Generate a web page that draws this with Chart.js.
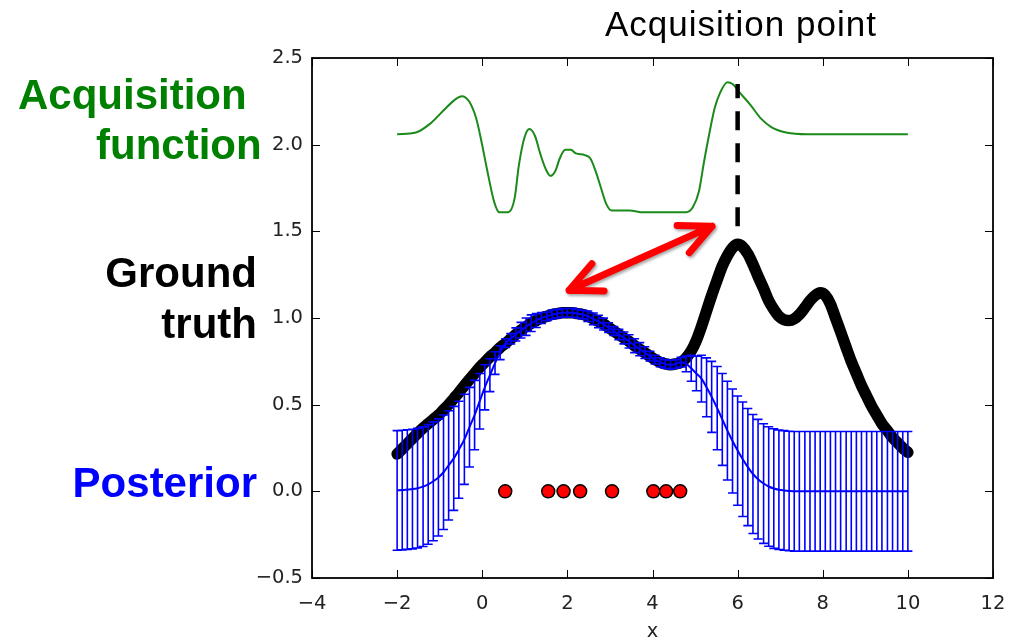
<!DOCTYPE html>
<html>
<head>
<meta charset="utf-8">
<title>Bayesian optimisation - acquisition point</title>
<script src="https://cdn.jsdelivr.net/npm/chart.js@4.4.1/dist/chart.umd.min.js"></script>
<style>
  html, body { margin: 0; padding: 0; background: #fff; }
  #wrap { position: relative; width: 1021px; height: 642px; }
  #chart { position: absolute; left: 0; top: 0; }
  .lbl { position: absolute; white-space: nowrap; line-height: 1; font-family: "Liberation Sans", Arial, sans-serif; }
  .side { font-size: 42px; font-weight: bold; }
</style>
</head>
<body>
<div id="wrap">
  <canvas id="chart" width="1021" height="642"></canvas>
  <div class="lbl" style="left:605px; top:6px; font-size:35px; letter-spacing:1px; color:#000;">Acquisition point</div>
  <div class="lbl side" style="left:18px; top:74px; color:#008000;">Acquisition</div>
  <div class="lbl side" style="left:96px; top:124px; color:#008000;">function</div>
  <div class="lbl side" style="right:764px; top:252px; color:#000;">Ground</div>
  <div class="lbl side" style="right:764px; top:303px; color:#000;">truth</div>
  <div class="lbl side" style="right:764px; top:462px; color:#0000ff;">Posterior</div>
</div>
<script>
// Grille des x (100 points de -2 a 10)
const xs = [
  -2.00, -1.88, -1.76, -1.64, -1.52, -1.39, -1.27, -1.15, -1.03, -0.91,
  -0.79, -0.67, -0.55, -0.42, -0.30, -0.18, -0.06, 0.06, 0.18, 0.30,
  0.42, 0.55, 0.67, 0.79, 0.91, 1.03, 1.15, 1.27, 1.39, 1.52,
  1.64, 1.76, 1.88, 2.00, 2.12, 2.24, 2.36, 2.48, 2.61, 2.73,
  2.85, 2.97, 3.09, 3.21, 3.33, 3.45, 3.58, 3.70, 3.82, 3.94,
  4.06, 4.18, 4.30, 4.42, 4.55, 4.67, 4.79, 4.91, 5.03, 5.15,
  5.27, 5.39, 5.52, 5.64, 5.76, 5.88, 6.00, 6.12, 6.24, 6.36,
  6.48, 6.61, 6.73, 6.85, 6.97, 7.09, 7.21, 7.33, 7.45, 7.58,
  7.70, 7.82, 7.94, 8.06, 8.18, 8.30, 8.42, 8.55, 8.67, 8.79,
  8.91, 9.03, 9.15, 9.27, 9.39, 9.52, 9.64, 9.76, 9.88, 10.00
];

// Ground truth (courbe noire)
const truth = [
  0.215, 0.245, 0.275, 0.305, 0.335, 0.365, 0.39, 0.415, 0.44, 0.47,
  0.50, 0.535, 0.57, 0.61, 0.645, 0.68, 0.715, 0.745, 0.775, 0.80,
  0.83, 0.855, 0.88, 0.905, 0.93, 0.95, 0.97, 0.985, 1.00, 1.01,
  1.02, 1.025, 1.03, 1.03, 1.03, 1.025, 1.02, 1.01, 0.995, 0.98,
  0.965, 0.945, 0.925, 0.905, 0.885, 0.865, 0.84, 0.82, 0.80, 0.78,
  0.76, 0.745, 0.735, 0.73, 0.735, 0.745, 0.77, 0.81, 0.87, 0.95,
  1.04, 1.13, 1.22, 1.30, 1.36, 1.405, 1.425, 1.41, 1.37, 1.31,
  1.24, 1.17, 1.10, 1.05, 1.01, 0.99, 0.985, 0.995, 1.02, 1.06,
  1.10, 1.13, 1.145, 1.13, 1.08, 1.00, 0.92, 0.83, 0.75, 0.68,
  0.61, 0.55, 0.49, 0.44, 0.39, 0.35, 0.31, 0.28, 0.25, 0.225
];

// Posterior : moyenne
const postMean = [
  0.005, 0.007, 0.01, 0.013, 0.018, 0.027, 0.04, 0.058, 0.08, 0.11,
  0.15, 0.19, 0.24, 0.30, 0.37, 0.44, 0.52, 0.60, 0.67, 0.74,
  0.80, 0.855, 0.88, 0.905, 0.93, 0.95, 0.97, 0.985, 1.00, 1.01,
  1.02, 1.025, 1.03, 1.03, 1.03, 1.025, 1.02, 1.01, 0.995, 0.98,
  0.965, 0.945, 0.925, 0.905, 0.885, 0.865, 0.84, 0.82, 0.80, 0.78,
  0.76, 0.745, 0.735, 0.73, 0.735, 0.745, 0.735, 0.71, 0.68, 0.65,
  0.60, 0.545, 0.48, 0.415, 0.35, 0.29, 0.235, 0.185, 0.14, 0.10,
  0.07, 0.045, 0.028, 0.016, 0.009, 0.005, 0.002, 0, 0, 0,
  0, 0, 0, 0, 0, 0, 0, 0, 0, 0,
  0, 0, 0, 0, 0, 0, 0, 0, 0, 0
];

// Posterior : ecart-type (barres d'erreur)
const postStd = [
  0.345, 0.345, 0.345, 0.345, 0.345, 0.345, 0.345, 0.343, 0.338, 0.33,
  0.315, 0.30, 0.28, 0.26, 0.23, 0.20, 0.16, 0.13, 0.095, 0.065,
  0.04, 0.025, 0.03, 0.038, 0.045, 0.05, 0.048, 0.04, 0.032, 0.025,
  0.026, 0.025, 0.024, 0.025, 0.026, 0.025, 0.025, 0.03, 0.034, 0.036,
  0.034, 0.028, 0.025, 0.03, 0.034, 0.038, 0.04, 0.038, 0.034, 0.028,
  0.025, 0.026, 0.025, 0.026, 0.025, 0.028, 0.045, 0.075, 0.10, 0.135,
  0.17, 0.205, 0.24, 0.265, 0.285, 0.30, 0.315, 0.33, 0.338, 0.343,
  0.345, 0.345, 0.345, 0.345, 0.345, 0.345, 0.345, 0.345, 0.345, 0.345,
  0.345, 0.345, 0.345, 0.345, 0.345, 0.345, 0.345, 0.345, 0.345, 0.345,
  0.345, 0.345, 0.345, 0.345, 0.345, 0.345, 0.345, 0.345, 0.345, 0.345
];

// Observations (points rouges, y = 0)
const obsX = [0.54, 1.55, 1.91, 2.30, 3.05, 4.02, 4.32, 4.65];
const obsY = [0, 0, 0, 0, 0, 0, 0, 0];

// Fonction d'acquisition (courbe verte)
const acqX = [
  -2.00, -1.56, -1.23, -0.90, -0.64, -0.48, -0.31, -0.14, -0.02, 0.11,
  0.28, 0.40, 0.61, 0.76, 0.86, 0.99, 1.11, 1.24, 1.36, 1.49,
  1.60, 1.72, 1.82, 1.95, 2.08, 2.20, 2.41, 2.54, 2.66, 2.79,
  2.91, 3.04, 3.20, 3.46, 3.79, 4.79, 4.95, 5.09, 5.21, 5.34,
  5.46, 5.59, 5.76, 5.88, 6.05, 6.30, 6.55, 6.80, 7.14, 7.64, 10.00
];
const acqY = [
  2.06, 2.07, 2.12, 2.20, 2.26, 2.28, 2.25, 2.15, 2.02, 1.86,
  1.67, 1.61, 1.61, 1.69, 1.88, 2.04, 2.09, 2.05, 1.95, 1.86,
  1.82, 1.85, 1.92, 1.97, 1.97, 1.95, 1.94, 1.92, 1.85, 1.75,
  1.66, 1.62, 1.62, 1.62, 1.61, 1.61, 1.64, 1.73, 1.90, 2.07,
  2.21, 2.30, 2.36, 2.35, 2.30, 2.23, 2.15, 2.10, 2.07, 2.06, 2.06
];

// Point d'acquisition (trait pointille vertical)
const acqPointX = [6, 6];
const acqPointY = [1.53, 2.35];

// Ticks
const xTicks = [-4, -2, 0, 2, 4, 6, 8, 10, 12];
const yTicks = [-0.5, 0.0, 0.5, 1.0, 1.5, 2.0, 2.5];

const toPts = (a, b) => a.map((v, i) => ({ x: v, y: b[i] }));
const minus = s => s.replace('-', '\u2212');
const MEAN_IDX = 2;

// Barres d'erreur du posterior
const errorBars = {
  id: 'errorBars',
  afterDatasetDraw(chart, args) {
    if (args.index !== MEAN_IDX) return;
    const { ctx, scales: { x, y } } = chart;
    ctx.save();
    ctx.strokeStyle = '#0000ff';
    ctx.lineWidth = 1.6;
    ctx.beginPath();
    xs.forEach((xv, i) => {
      const px = x.getPixelForValue(xv);
      const top = y.getPixelForValue(postMean[i] + postStd[i]);
      const bot = y.getPixelForValue(postMean[i] - postStd[i]);
      ctx.moveTo(px, top); ctx.lineTo(px, bot);
      ctx.moveTo(px - 4.5, top); ctx.lineTo(px + 4.5, top);
      ctx.moveTo(px - 4.5, bot); ctx.lineTo(px + 4.5, bot);
    });
    ctx.stroke();
    ctx.restore();
  }
};

// Fleche rouge double
const redArrow = {
  id: 'redArrow',
  afterDatasetsDraw(chart) {
    const { ctx, scales: { x, y } } = chart;
    const p0 = [x.getPixelForValue(2.04), y.getPixelForValue(1.16)];
    const p1 = [x.getPixelForValue(5.40), y.getPixelForValue(1.53)];
    const ang = Math.atan2(p1[1] - p0[1], p1[0] - p0[0]);
    const len = 35, spread = 0.44;
    const head = (tip, a) => {
      ctx.moveTo(tip[0] + len * Math.cos(a + spread), tip[1] + len * Math.sin(a + spread));
      ctx.lineTo(tip[0], tip[1]);
      ctx.lineTo(tip[0] + len * Math.cos(a - spread), tip[1] + len * Math.sin(a - spread));
    };
    ctx.save();
    ctx.strokeStyle = '#ff0000';
    ctx.lineWidth = 7;
    ctx.lineCap = 'round';
    ctx.lineJoin = 'round';
    ctx.shadowColor = 'rgba(0,0,0,0.35)';
    ctx.shadowBlur = 3;
    ctx.shadowOffsetX = 1.5;
    ctx.shadowOffsetY = 2;
    ctx.beginPath();
    ctx.moveTo(p0[0], p0[1]);
    ctx.lineTo(p1[0], p1[1]);
    head(p0, ang);
    head(p1, ang + Math.PI);
    ctx.stroke();
    ctx.restore();
  }
};

// Cadre + ticks vers l'interieur (style matplotlib)
const frameTicks = {
  id: 'frameTicks',
  afterDraw(chart) {
    const { ctx, chartArea: a, scales: { x, y } } = chart;
    ctx.save();
    ctx.strokeStyle = '#000';
    ctx.lineWidth = 1;
    ctx.beginPath();
    xTicks.forEach(v => {
      const px = Math.round(x.getPixelForValue(v)) + 0.5;
      ctx.moveTo(px, a.bottom); ctx.lineTo(px, a.bottom - 8);
      ctx.moveTo(px, a.top); ctx.lineTo(px, a.top + 8);
    });
    yTicks.forEach(v => {
      const py = Math.round(y.getPixelForValue(v)) + 0.5;
      ctx.moveTo(a.left, py); ctx.lineTo(a.left + 8, py);
      ctx.moveTo(a.right, py); ctx.lineTo(a.right - 8, py);
    });
    ctx.stroke();
    ctx.lineWidth = 1.8;
    ctx.strokeRect(a.left, a.top, a.right - a.left, a.bottom - a.top);
    ctx.restore();
  }
};

const tickFont = { family: '"DejaVu Sans", sans-serif', size: 19.5 };

new Chart(document.getElementById('chart'), {
  type: 'line',
  data: {
    datasets: [
      {
        label: 'Acquisition function',
        data: toPts(acqX, acqY),
        borderColor: '#1a8a1a',
        borderWidth: 2,
        pointRadius: 0,
        cubicInterpolationMode: 'monotone',
        order: 5
      },
      {
        label: 'Ground truth',
        data: toPts(xs, truth),
        borderColor: '#000',
        borderWidth: 11.5,
        borderCapStyle: 'round',
        borderJoinStyle: 'round',
        pointRadius: 0,
        cubicInterpolationMode: 'monotone',
        order: 4
      },
      {
        label: 'Posterior',
        data: toPts(xs, postMean),
        borderColor: '#0000ff',
        borderWidth: 2,
        pointRadius: 0,
        cubicInterpolationMode: 'monotone',
        order: 3
      },
      {
        label: 'Acquisition point',
        data: toPts(acqPointX, acqPointY),
        borderColor: '#000',
        borderWidth: 4.5,
        borderDash: [19, 13],
        pointRadius: 0,
        order: 2
      },
      {
        label: 'Observations',
        data: toPts(obsX, obsY),
        showLine: false,
        pointRadius: 6.5,
        pointBackgroundColor: '#ff0000',
        pointBorderColor: '#000',
        pointBorderWidth: 1.5,
        order: 1
      }
    ]
  },
  options: {
    responsive: false,
    animation: false,
    devicePixelRatio: 1,
    layout: { padding: { top: 58, right: 28, left: 0, bottom: 0 } },
    plugins: { legend: { display: false }, tooltip: { enabled: false } },
    scales: {
      x: {
        type: 'linear',
        min: -4, max: 12,
        afterBuildTicks: s => { s.ticks = xTicks.map(v => ({ value: v })); },
        afterFit: s => { s.height = 64; },
        grid: { display: false, drawTicks: false },
        border: { display: false },
        ticks: { font: tickFont, color: '#222', padding: 14, maxRotation: 0,
                 callback: v => minus(String(v)) },
        title: { display: true, text: 'x', color: '#222', padding: 0,
                 font: { family: '"DejaVu Sans", sans-serif', size: 19.5, lineHeight: 1 } }
      },
      y: {
        min: -0.5, max: 2.5,
        afterBuildTicks: s => { s.ticks = yTicks.map(v => ({ value: v })); },
        afterFit: s => { s.width = 312; },
        grid: { display: false, drawTicks: false },
        border: { display: false },
        ticks: { font: tickFont, color: '#222', padding: 9,
                 callback: v => minus(Number(v).toFixed(1)) }
      }
    }
  },
  plugins: [errorBars, redArrow, frameTicks]
});
</script>
</body>
</html>
